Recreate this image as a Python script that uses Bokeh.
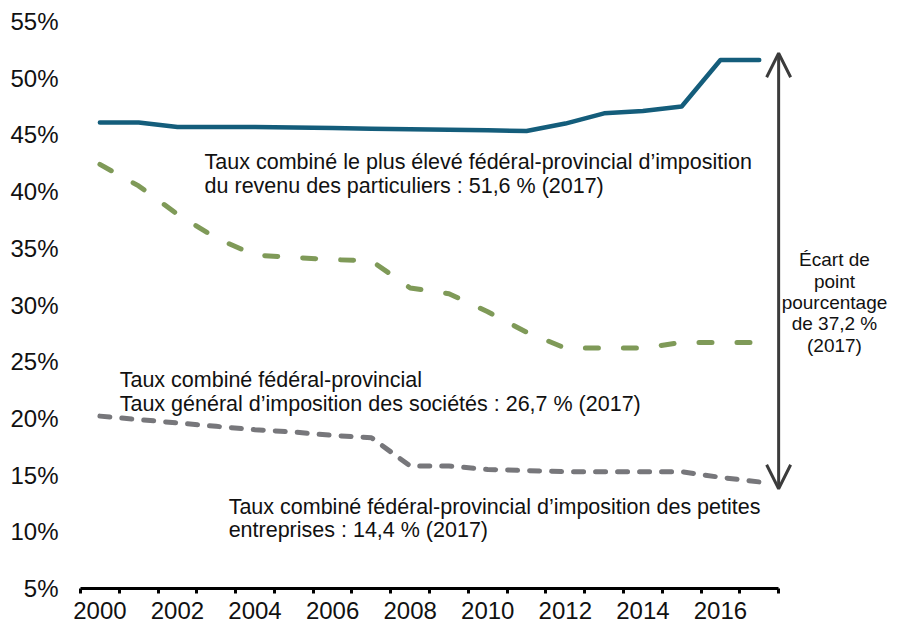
from bokeh.plotting import figure
from bokeh.models import (ColumnDataSource, FixedTicker, PrintfTickFormatter, Range1d,
                          Label, Arrow, OpenHead)
from bokeh.embed import file_html
from bokeh.resources import INLINE

# ---- data ----
years = list(range(2000, 2018))
personal = [46.1, 46.1, 45.7, 45.7, 45.7, 45.65, 45.6, 45.55, 45.5, 45.45, 45.4, 45.35,
            46.0, 46.9, 47.1, 47.5, 51.6, 51.6]
general = [42.4, 40.5, 38.0, 35.9, 34.4, 34.2, 34.0, 33.9, 31.5, 31.0, 29.4, 27.6,
           26.2, 26.2, 26.2, 26.7, 26.7, 26.7]
small = [20.2, 19.9, 19.6, 19.3, 19.0, 18.8, 18.5, 18.3, 15.8, 15.8, 15.5, 15.4,
         15.3, 15.3, 15.3, 15.3, 14.8, 14.4]
y_ticks = [5, 10, 15, 20, 25, 30, 35, 40, 45, 50, 55]
x_label_years = [2000, 2002, 2004, 2006, 2008, 2010, 2012, 2014, 2016]

label_personal = ["Taux combiné le plus élevé fédéral-provincial d’imposition",
                  "du revenu des particuliers : 51,6 % (2017)"]
label_general = ["Taux combiné fédéral-provincial",
                 "Taux général d’imposition des sociétés : 26,7 % (2017)"]
label_small = ["Taux combiné fédéral-provincial d’imposition des petites",
               "entreprises : 14,4 % (2017)"]
label_gap = ["Écart de", "point", "pourcentage", "de 37,2 %", "(2017)"]

src = ColumnDataSource(dict(year=years, personal=personal, general=general, small=small))

FONT = "Liberation Sans"
BLUE = "#145d7b"
GREEN = "#7f9a58"
GREY = "#77777b"
ARROW = "#3c3c3c"

X_START = years[0] - 0.5
X_AXIS_END = years[-1] + 0.5

p = figure(width=891, height=625, output_backend="svg", toolbar_location=None,
           x_range=Range1d(X_START, 2020.41), y_range=Range1d(5, 55),
           min_border_left=80, min_border_right=0, min_border_top=21, min_border_bottom=37)
p.outline_line_color = None
p.xgrid.grid_line_color = None
p.ygrid.grid_line_color = None
p.background_fill_color = "white"
p.border_fill_color = "white"

# lines
p.line("year", "personal", source=src, line_color=BLUE, line_width=4.5,
       line_cap="round", line_join="round")
p.line("year", "general", source=src, line_color=GREEN, line_width=5,
       line_dash="13 25", line_cap="round", line_join="round")
p.line("year", "small", source=src, line_color=GREY, line_width=5,
       line_dash="10 12", line_cap="round", line_join="round")

# y axis
p.yaxis.ticker = FixedTicker(ticks=y_ticks)
p.yaxis.formatter = PrintfTickFormatter(format="%d%%")
p.yaxis.axis_line_color = None
p.yaxis.major_tick_line_color = None
p.yaxis.major_tick_out = 0
p.yaxis.major_tick_in = 0
p.yaxis.minor_tick_line_color = None
p.yaxis.major_label_standoff = 22
p.yaxis.major_label_text_font = FONT
p.yaxis.major_label_text_font_size = "24px"
p.yaxis.major_label_text_color = "#111111"

# x axis
p.xaxis.bounds = (X_START, X_AXIS_END)
p.xaxis.ticker = FixedTicker(ticks=x_label_years,
                             minor_ticks=[y - 0.5 for y in years] + [X_AXIS_END])
p.xaxis.axis_line_width = 3
p.xaxis.axis_line_color = "black"
p.xaxis.major_tick_out = 0
p.xaxis.major_tick_in = 0
p.xaxis.major_tick_line_color = None
p.xaxis.minor_tick_out = 5
p.xaxis.minor_tick_in = 0
p.xaxis.minor_tick_line_width = 3
p.xaxis.minor_tick_line_color = "black"
p.xaxis.major_label_standoff = 8
p.xaxis.major_label_text_font = FONT
p.xaxis.major_label_text_font_size = "24px"
p.xaxis.major_label_text_color = "#111111"

# annotations
def add_lines(lines, x, y0, dy, align="left", size="21.5px"):
    for i, t in enumerate(lines):
        p.add_layout(Label(x=x, y=y0 - i * dy, text=t, text_font=FONT,
                           text_font_size=size, text_color="#111111",
                           text_align=align, text_baseline="middle"))

add_lines(label_personal, 2002.70, 42.63, 2.12)
add_lines(label_general, 2000.51, 23.39, 2.12)
add_lines(label_small, 2003.32, 12.2, 2.05)
add_lines(label_gap, 2018.94, 33.98, 1.88, align="center", size="19px")

p.add_layout(Arrow(start=OpenHead(size=24, line_width=3, line_color=ARROW),
                   end=OpenHead(size=24, line_width=3, line_color=ARROW),
                   x_start=X_AXIS_END, y_start=13.8, x_end=X_AXIS_END, y_end=52.2,
                   line_width=3, line_color=ARROW))

open("out.html", "w").write(file_html(p, INLINE))
